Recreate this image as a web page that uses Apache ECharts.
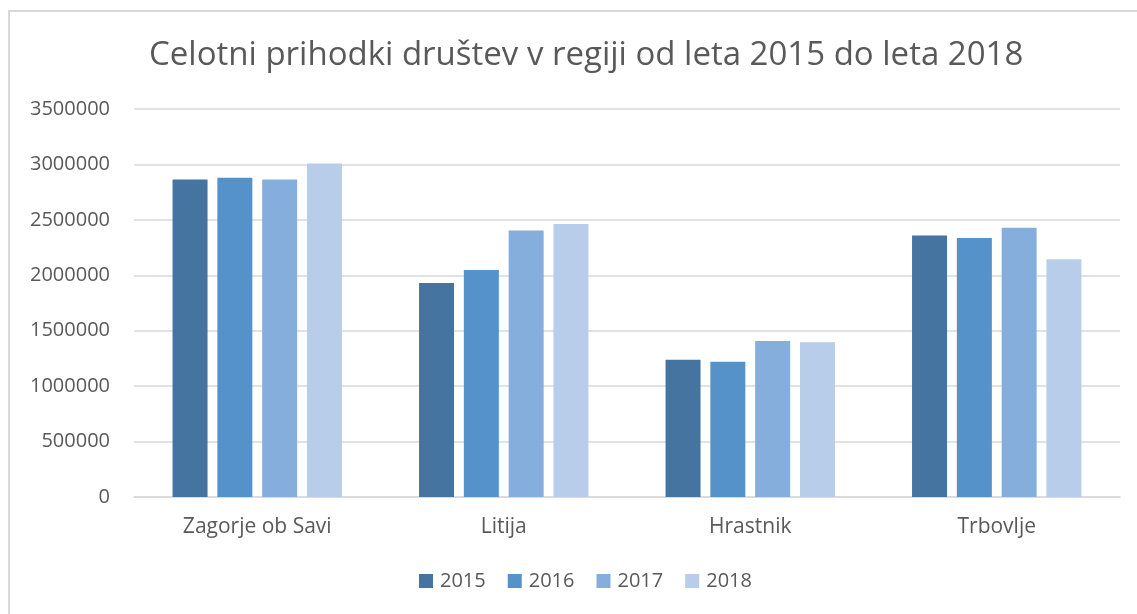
<!DOCTYPE html>
<html>
<head>
<meta charset="utf-8">
<script src="https://cdn.jsdelivr.net/npm/echarts@6/dist/echarts.min.js"></script>
<style>
  html, body { margin: 0; padding: 0; background: #fff; }
  #frame { position: absolute; left: 8px; top: 10px; width: 1140px; height: 620px;
           border-left: 2px solid #D9D9D9; border-top: 2px solid #D9D9D9; }
  #main { position: absolute; left: 0; top: 0; width: 1137px; height: 614px; }
</style>
</head>
<body>
<div id="frame"></div>
<div id="main"></div>
<script>
// kategorije (občine)
var categories = ['Zagorje ob Savi', 'Litija', 'Hrastnik', 'Trbovlje'];
// leta
var years = ['2015', '2016', '2017', '2018'];
// prihodki po letih
var values2015 = [2865000, 1931000, 1237000, 2360000];
var values2016 = [2879000, 2048000, 1219000, 2336000];
var values2017 = [2865000, 2405000, 1408000, 2429000];
var values2018 = [3009000, 2462000, 1396000, 2144000];
// oznake osi y
var yTicks = [0, 500000, 1000000, 1500000, 2000000, 2500000, 3000000, 3500000];

var colors = ['#44749F', '#5592C9', '#86AEDC', '#B8CDE9'];
var font = '"Open Sans", "Noto Sans", sans-serif';

var myChart = echarts.init(document.getElementById('main'));

var allValues = [values2015, values2016, values2017, values2018];
var series = years.map(function(y, i) {
    return {
        name: y,
        type: 'bar',
        barWidth: 35,
        barGap: '28%',
        itemStyle: { color: colors[i] },
        data: allValues[i]
    };
});

var option = {
    animation: false,
    color: colors,
    title: {
        text: 'Celotni prihodki društev v regiji od leta 2015 do leta 2018',
        left: 144,
        top: 34,
        textStyle: { fontFamily: font, fontSize: 33, fontWeight: 'normal', color: '#595959' }
    },
    legend: {
        data: years,
        bottom: 18,
        left: 414,
        itemWidth: 14,
        itemHeight: 14,
        itemGap: 22,
        icon: 'rect',
        textStyle: { fontFamily: font, fontSize: 20, color: '#595959', padding: [0, 0, 0, 2] }
    },
    grid: { left: 134, right: 17, top: 109, bottom: 117 },
    xAxis: {
        type: 'category',
        data: categories,
        axisLine: { lineStyle: { color: '#D9D9D9', width: 1.5 } },
        axisTick: { show: false },
        axisLabel: { margin: 20, fontFamily: font, fontSize: 21, color: '#595959' }
    },
    yAxis: {
        type: 'value',
        min: yTicks[0],
        max: yTicks[yTicks.length - 1],
        interval: 500000,
        axisLine: { show: false },
        axisTick: { show: false },
        splitLine: { lineStyle: { color: '#D9D9D9', width: 1.5 } },
        axisLabel: {
            margin: 24, fontFamily: font, fontSize: 20, color: '#595959',
            formatter: function(v) { return String(v); }
        }
    },
    series: series
};

myChart.setOption(option);
</script>
</body>
</html>
